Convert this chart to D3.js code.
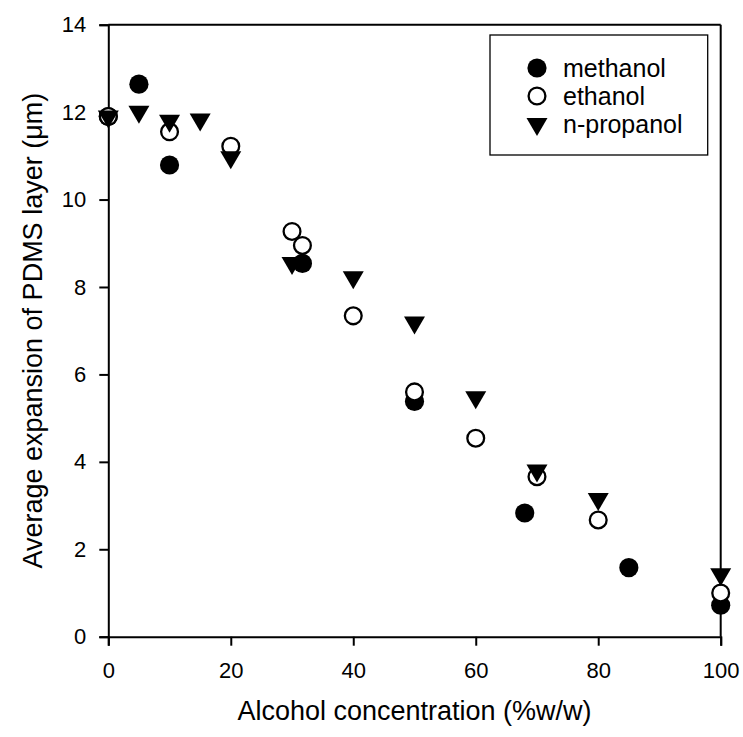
<!DOCTYPE html>
<html>
<head>
<meta charset="utf-8">
<script src="https://cdn.jsdelivr.net/npm/d3@7/dist/d3.min.js"></script>
<style>
  html, body { margin: 0; padding: 0; background: #fff; }
  svg { display: block; font-family: "Liberation Sans", Arial, sans-serif; }
</style>
</head>
<body>
<svg id="chart" width="743" height="737"></svg>
<script>
// ---- data ----
const methanolX = [0, 5, 10, 31.7, 50, 68, 85, 100];
const methanolY = [11.9, 12.64, 10.79, 8.54, 5.38, 2.83, 1.58, 0.72];

const ethanolX = [0, 10, 20, 30, 31.7, 40, 50, 60, 70, 80, 100];
const ethanolY = [11.9, 11.55, 11.22, 9.27, 8.95, 7.34, 5.6, 4.54, 3.66, 2.67, 1.0];

const propanolX = [0, 5, 10, 15, 20, 30, 40, 50, 60, 70, 80, 100];
const propanolY = [11.9, 12.01, 11.8, 11.83, 10.97, 8.55, 8.22, 7.19, 5.48, 3.8, 3.15, 1.43];

const seriesNames = ["methanol", "ethanol", "n-propanol"];
const xTicks = [0, 20, 40, 60, 80, 100];
const yTicks = [0, 2, 4, 6, 8, 10, 12, 14];
const xTitle = "Alcohol concentration (%w/w)";
const yTitle = "Average expansion of PDMS layer (\u03BCm)";

// ---- layout ----
const svg = d3.select("#chart");
const pL = 108.3, pR = 720.7, pT = 24.7, pB = 636.7;
const x = d3.scaleLinear().domain([0, 100]).range([pL, pR]);
const y = d3.scaleLinear().domain([0, 14]).range([pB, pT]);

// frame (top and right)
svg.append("line").attr("x1", pL).attr("x2", pR).attr("y1", pT).attr("y2", pT)
  .attr("stroke", "#000").attr("stroke-width", 2);
svg.append("line").attr("x1", pR).attr("x2", pR).attr("y1", pT).attr("y2", pB)
  .attr("stroke", "#000").attr("stroke-width", 2);

// axes
const xAxis = svg.append("g").attr("transform", `translate(0,${pB})`)
  .call(d3.axisBottom(x).tickValues(xTicks).tickFormat(d3.format("d")).tickSize(9).tickPadding(17));
const yAxis = svg.append("g").attr("transform", `translate(${pL},0)`)
  .call(d3.axisLeft(y).tickValues(yTicks).tickFormat(d3.format("d")).tickSize(9).tickPadding(13));
[xAxis, yAxis].forEach(g => {
  g.select(".domain").attr("stroke", "#000").attr("stroke-width", 2);
  g.selectAll(".tick line").attr("stroke", "#000").attr("stroke-width", 2);
  g.selectAll(".tick text").attr("fill", "#000").attr("font-size", 22)
    .attr("font-family", "'Liberation Sans', Arial, sans-serif");
});

// titles
svg.append("text").attr("x", (pL + pR) / 2).attr("y", 720)
  .attr("text-anchor", "middle").attr("font-size", 27).attr("fill", "#000").text(xTitle);
svg.append("text").attr("transform", `translate(42,${(pT + pB) / 2}) rotate(-90)`)
  .attr("text-anchor", "middle").attr("font-size", 27).attr("fill", "#000").text(yTitle);

// markers
const R = 9.6;
function triPath(cx, cy, w, h) {
  // downward triangle centred on its centroid
  return `M${cx - w / 2},${cy - h / 3}L${cx + w / 2},${cy - h / 3}L${cx},${cy + 2 * h / 3}Z`;
}
function drawFilled(g, cx, cy) {
  g.append("circle").attr("cx", cx).attr("cy", cy).attr("r", R).attr("fill", "#000");
}
function drawOpen(g, cx, cy) {
  g.append("circle").attr("cx", cx).attr("cy", cy).attr("r", R - 1.2)
    .attr("fill", "#fff").attr("stroke", "#000").attr("stroke-width", 2.3);
}
function drawTri(g, cx, cy) {
  g.append("path").attr("d", triPath(cx, cy, 21, 18)).attr("fill", "#000");
}

const marks = svg.append("g");
methanolX.forEach((v, i) => drawFilled(marks, x(v), y(methanolY[i])));
ethanolX.forEach((v, i) => drawOpen(marks, x(v), y(ethanolY[i])));
propanolX.forEach((v, i) => drawTri(marks, x(v), y(propanolY[i])));

// legend
const lg = svg.append("g");
lg.append("rect").attr("x", 490).attr("y", 35).attr("width", 217.7).attr("height", 120)
  .attr("fill", "#fff").attr("stroke", "#000").attr("stroke-width", 1.3);
const rowY = [68, 96, 124];
const drawers = [drawFilled, drawOpen, drawTri];
seriesNames.forEach((name, i) => {
  drawers[i](lg, 537, rowY[i]);
  lg.append("text").attr("x", 563).attr("y", rowY[i]).attr("dy", "0.35em")
    .attr("font-size", 25).attr("fill", "#000").text(name);
});
</script>
</body>
</html>
